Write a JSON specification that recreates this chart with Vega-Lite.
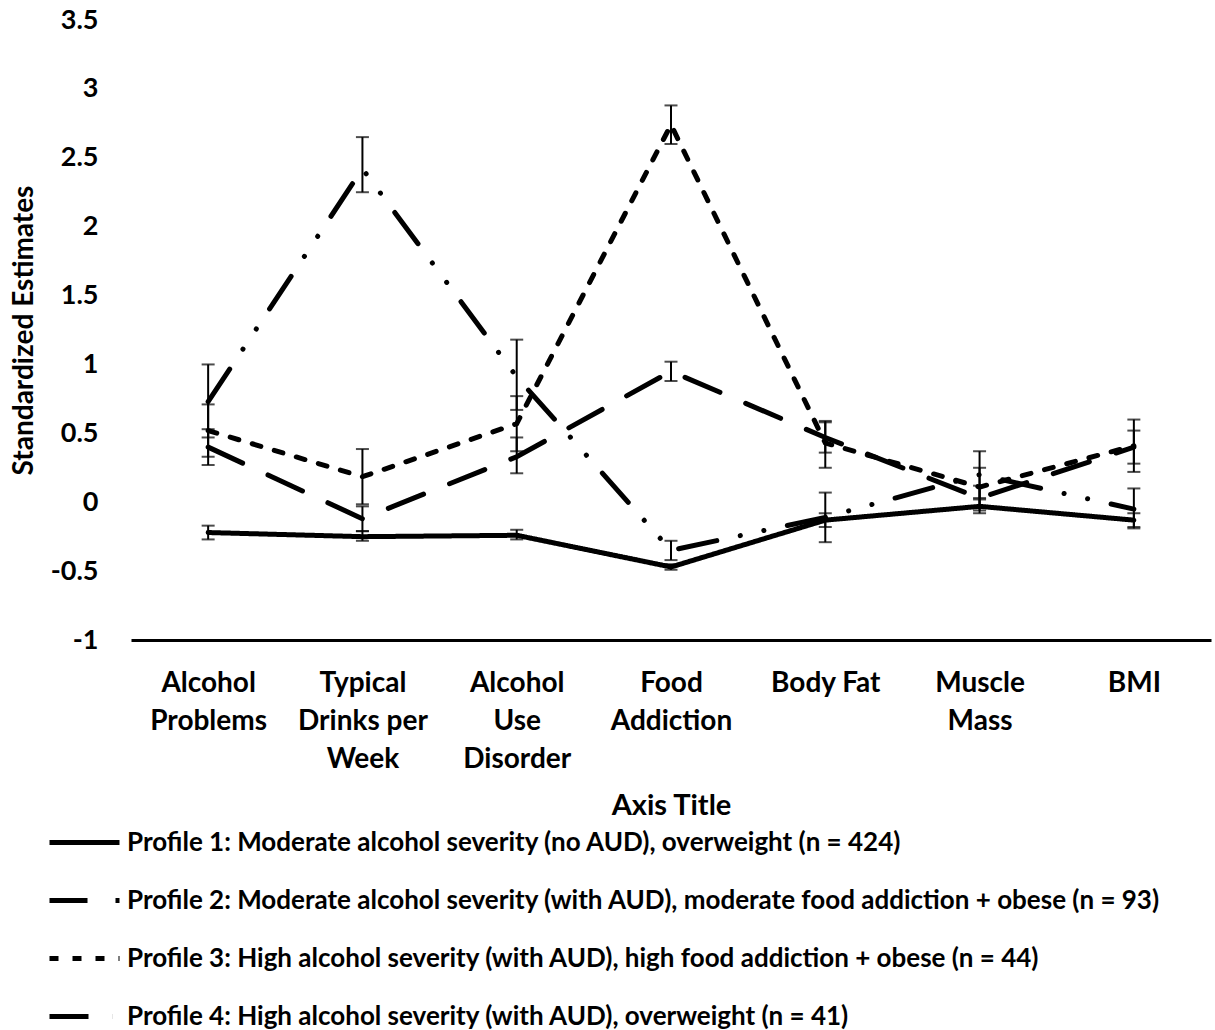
{
  "$schema": "https://vega.github.io/schema/vega-lite/v6.json",
  "autosize": "none",
  "width": 1080,
  "height": 620,
  "padding": {"left": 131, "top": 20, "right": 4, "bottom": 390},
  "config": {
    "view": {"stroke": null},
    "font": "Lato",
    "axis": {"grid": false, "labelFont": "Lato", "titleFont": "Lato", "labelColor": "#000", "titleColor": "#000", "labelFontWeight": "bold", "titleFontWeight": "bold"}
  },
  "data": {
    "values": [
      {"measure": "Alcohol Problems", "profile": "Profile 1: Moderate alcohol severity (no AUD), overweight (n = 424)", "est": -0.22, "lo": -0.27, "hi": -0.17},
      {"measure": "Typical Drinks per Week", "profile": "Profile 1: Moderate alcohol severity (no AUD), overweight (n = 424)", "est": -0.25, "lo": -0.28, "hi": -0.21},
      {"measure": "Alcohol Use Disorder", "profile": "Profile 1: Moderate alcohol severity (no AUD), overweight (n = 424)", "est": -0.24, "lo": -0.27, "hi": -0.2},
      {"measure": "Food Addiction", "profile": "Profile 1: Moderate alcohol severity (no AUD), overweight (n = 424)", "est": -0.47, "lo": -0.49, "hi": -0.45},
      {"measure": "Body Fat", "profile": "Profile 1: Moderate alcohol severity (no AUD), overweight (n = 424)", "est": -0.13, "lo": -0.18, "hi": -0.08},
      {"measure": "Muscle Mass", "profile": "Profile 1: Moderate alcohol severity (no AUD), overweight (n = 424)", "est": -0.03, "lo": -0.08, "hi": 0.02},
      {"measure": "BMI", "profile": "Profile 1: Moderate alcohol severity (no AUD), overweight (n = 424)", "est": -0.13, "lo": -0.18, "hi": -0.08},

      {"measure": "Alcohol Problems", "profile": "Profile 2: Moderate alcohol severity (with AUD), moderate food addiction + obese (n = 93)", "est": 0.4, "lo": 0.27, "hi": 0.53},
      {"measure": "Typical Drinks per Week", "profile": "Profile 2: Moderate alcohol severity (with AUD), moderate food addiction + obese (n = 93)", "est": -0.12, "lo": -0.21, "hi": -0.03},
      {"measure": "Alcohol Use Disorder", "profile": "Profile 2: Moderate alcohol severity (with AUD), moderate food addiction + obese (n = 93)", "est": 0.33, "lo": 0.21, "hi": 0.47},
      {"measure": "Food Addiction", "profile": "Profile 2: Moderate alcohol severity (with AUD), moderate food addiction + obese (n = 93)", "est": 0.95, "lo": 0.88, "hi": 1.02},
      {"measure": "Body Fat", "profile": "Profile 2: Moderate alcohol severity (with AUD), moderate food addiction + obese (n = 93)", "est": 0.47, "lo": 0.36, "hi": 0.58},
      {"measure": "Muscle Mass", "profile": "Profile 2: Moderate alcohol severity (with AUD), moderate food addiction + obese (n = 93)", "est": 0.03, "lo": -0.06, "hi": 0.12},
      {"measure": "BMI", "profile": "Profile 2: Moderate alcohol severity (with AUD), moderate food addiction + obese (n = 93)", "est": 0.4, "lo": 0.28, "hi": 0.52},

      {"measure": "Alcohol Problems", "profile": "Profile 3: High alcohol severity (with AUD), high food addiction + obese  (n = 44)", "est": 0.52, "lo": 0.33, "hi": 0.71},
      {"measure": "Typical Drinks per Week", "profile": "Profile 3: High alcohol severity (with AUD), high food addiction + obese  (n = 44)", "est": 0.185, "lo": -0.015, "hi": 0.386},
      {"measure": "Alcohol Use Disorder", "profile": "Profile 3: High alcohol severity (with AUD), high food addiction + obese  (n = 44)", "est": 0.57, "lo": 0.37, "hi": 0.77},
      {"measure": "Food Addiction", "profile": "Profile 3: High alcohol severity (with AUD), high food addiction + obese  (n = 44)", "est": 2.74, "lo": 2.6, "hi": 2.88},
      {"measure": "Body Fat", "profile": "Profile 3: High alcohol severity (with AUD), high food addiction + obese  (n = 44)", "est": 0.43, "lo": 0.25, "hi": 0.59},
      {"measure": "Muscle Mass", "profile": "Profile 3: High alcohol severity (with AUD), high food addiction + obese  (n = 44)", "est": 0.11, "lo": -0.04, "hi": 0.25},
      {"measure": "BMI", "profile": "Profile 3: High alcohol severity (with AUD), high food addiction + obese  (n = 44)", "est": 0.41, "lo": 0.22, "hi": 0.6},

      {"measure": "Alcohol Problems", "profile": "Profile 4: High alcohol severity (with AUD), overweight (n = 41)", "est": 0.73, "lo": 0.47, "hi": 1.0},
      {"measure": "Typical Drinks per Week", "profile": "Profile 4: High alcohol severity (with AUD), overweight (n = 41)", "est": 2.42, "lo": 2.25, "hi": 2.65},
      {"measure": "Alcohol Use Disorder", "profile": "Profile 4: High alcohol severity (with AUD), overweight (n = 41)", "est": 0.91, "lo": 0.67, "hi": 1.18},
      {"measure": "Food Addiction", "profile": "Profile 4: High alcohol severity (with AUD), overweight (n = 41)", "est": -0.35, "lo": -0.42, "hi": -0.28},
      {"measure": "Body Fat", "profile": "Profile 4: High alcohol severity (with AUD), overweight (n = 41)", "est": -0.11, "lo": -0.29, "hi": 0.07},
      {"measure": "Muscle Mass", "profile": "Profile 4: High alcohol severity (with AUD), overweight (n = 41)", "est": 0.2, "lo": 0.03, "hi": 0.37},
      {"measure": "BMI", "profile": "Profile 4: High alcohol severity (with AUD), overweight (n = 41)", "est": -0.05, "lo": -0.19, "hi": 0.1}
    ]
  },
  "encoding": {
    "x": {
      "field": "measure", "type": "nominal", "sort": null,
      "scale": {"type": "point", "padding": 0.5},
      "axis": {
        "title": "Axis Title", "titleFontSize": 29, "titlePadding": 18,
        "labelAngle": 0, "labelFontSize": 28, "labelLineHeight": 38, "labelPadding": 29,
        "ticks": false, "domainColor": "#000", "domainWidth": 3,
        "labelExpr": "{'Alcohol Problems':['Alcohol','Problems'],'Typical Drinks per Week':['Typical','Drinks per','Week'],'Alcohol Use Disorder':['Alcohol','Use','Disorder'],'Food Addiction':['Food','Addiction'],'Body Fat':['Body Fat'],'Muscle Mass':['Muscle','Mass'],'BMI':['BMI']}[datum.value]"
      }
    }
  },
  "layer": [
    {
      "mark": {"type": "rule", "color": "#000", "strokeWidth": 2},
      "encoding": {
        "y": {"field": "lo", "type": "quantitative"},
        "y2": {"field": "hi"},
        "detail": {"field": "profile"}
      }
    },
    {
      "mark": {"type": "tick", "color": "#000", "thickness": 2, "size": 13, "orient": "horizontal"},
      "encoding": {"y": {"field": "lo", "type": "quantitative"}}
    },
    {
      "mark": {"type": "tick", "color": "#000", "thickness": 2, "size": 13, "orient": "horizontal"},
      "encoding": {"y": {"field": "hi", "type": "quantitative"}}
    },
    {
      "mark": {"type": "line", "color": "#000", "strokeWidth": 5, "strokeCap": "round"},
      "encoding": {
        "y": {
          "field": "est", "type": "quantitative",
          "scale": {"domain": [-1, 3.5], "nice": false, "zero": false},
          "axis": {
            "title": "Standardized Estimates", "titleFontSize": 28, "titlePadding": 12,
            "values": [-1, -0.5, 0, 0.5, 1, 1.5, 2, 2.5, 3, 3.5],
            "labelExpr": "toString(datum.value)",
            "labelFontSize": 27, "labelPadding": 33, "domain": false, "ticks": false
          }
        },
        "strokeDash": {
          "field": "profile", "type": "nominal",
          "scale": {"range": [[1, 0], [38, 28], [9, 14], [39, 24, 0.1, 24, 0.1, 24]]},
          "legend": {
            "title": null, "orient": "none", "legendX": -84, "legendY": 785,
            "direction": "vertical", "columns": 1,
            "symbolType": "stroke", "symbolSize": 4900, "symbolStrokeWidth": 5, "symbolStrokeColor": "#000",
            "labelFont": "Lato", "labelFontWeight": "bold", "labelFontSize": 26, "labelColor": "#000",
            "labelOffset": 5, "rowPadding": 7, "labelLimit": 1200, "padding": 0
          }
        }
      }
    }
  ]
}
